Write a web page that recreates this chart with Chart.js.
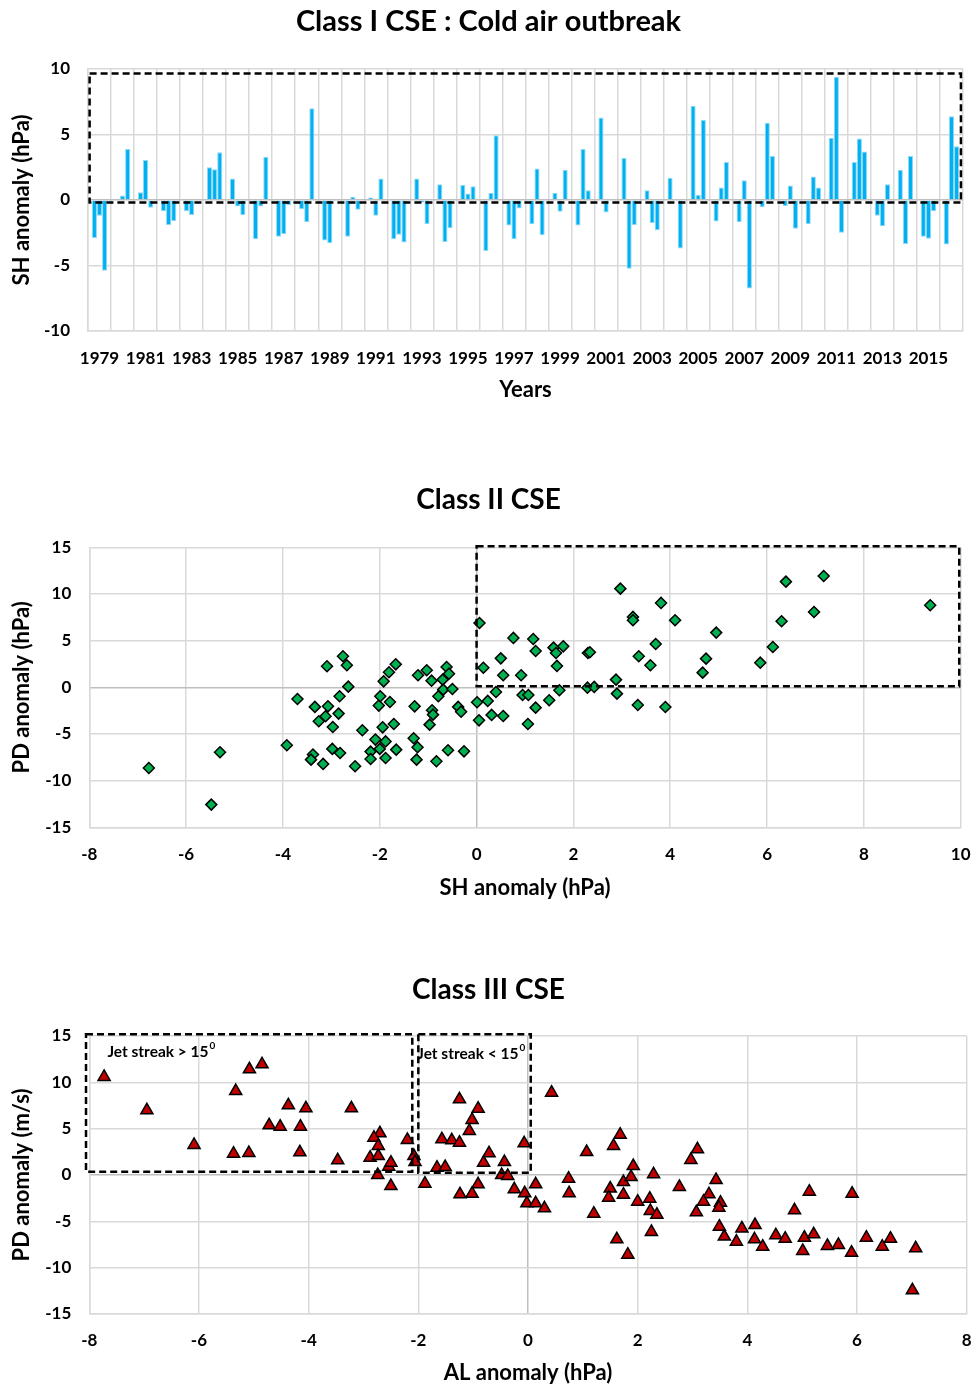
<!DOCTYPE html>
<html>
<head>
<meta charset="utf-8">
<script src="https://cdn.jsdelivr.net/npm/chart.js@4/dist/chart.umd.min.js"></script>
<style>
  body { margin: 0; background: #fff; }
  .panel { position: absolute; left: 0; width: 977px; }
  canvas { display: block; }
</style>
</head>
<body>
<div class="panel" style="top:0px"><canvas id="c1" width="977" height="410"></canvas></div>
<div class="panel" style="top:455px"><canvas id="c2" width="977" height="455"></canvas></div>
<div class="panel" style="top:945px"><canvas id="c3" width="977" height="441"></canvas></div>
<script>
// Class I: SH anomaly of each case, up to three cases per year
const years = ['1979','1980','1981','1982','1983','1984','1985','1986','1987','1988',
  '1989','1990','1991','1992','1993','1994','1995','1996','1997','1998',
  '1999','2000','2001','2002','2003','2004','2005','2006','2007','2008',
  '2009','2010','2011','2012','2013','2014','2015','2016'];
const caseA = [-2.9, 0.1, 0.6, -0.85, -0.85, 2.5, 1.65, -3.0, -2.8, -0.7,
  -3.1, -2.8, 0.2, -3.0, 1.65, 1.2, 1.15, -3.9, -1.95, -1.85,
  0.55, -1.95, 6.3, 3.2, 0.75, 1.7, 7.2, -1.65, -1.7, -0.55,
  -0.45, -1.85, 4.75, 2.9, -1.2, 2.3, -2.8, -3.4];
const caseB = [-1.2, 0.35, 3.05, -1.9, -1.15, 2.35, -0.5, -0.5, -2.6, -1.7,
  -3.3, 0.25, -1.2, -2.65, -0.2, -3.2, 0.5, 0.55, -3.0, 2.4,
  -0.9, 3.9, -0.95, -5.25, -1.75, null, 0.4, 0.95, 1.5, 5.9,
  1.1, 1.8, 9.4, 4.7, -2.0, -3.35, -2.95, 6.4];
const caseC = [-5.4, 3.9, -0.6, -1.6, null, 3.65, -1.15, 3.3, -0.4, 7.0,
  null, -0.75, 1.65, -3.25, -1.85, -2.15, 1.05, 4.95, -0.65, -2.7,
  2.3, 0.75, null, -1.9, -2.3, -3.7, 6.1, 2.9, -6.75, 3.35,
  -2.2, 0.95, -2.5, 3.7, 1.2, 3.35, -0.85, 4.1];

// Class II: SH anomaly vs PD anomaly
const shII = [-6.77, -5.30, -5.48, -3.92, -3.70, -3.34, -3.09, -2.76, -2.68, -2.65,
  -2.83, -3.07, -3.12, -3.26, -2.85, -2.97, -3.38, -3.42, -3.17, -2.98,
  -2.82, -2.51, -2.36, -2.19, -2.19, -2.09, -2.00, -1.88, -1.88, -1.66,
  -1.94, -1.71, -2.02, -1.99, -1.79, -1.92, -1.81, -1.67, -1.28, -1.21,
  -1.03, -0.93, -1.30, -1.22, -1.24, -0.83, -0.92, -0.90, -0.97, -0.79,
  -0.70, -0.62, -0.57, -0.69, -0.50, -0.38, -0.32, -0.59, -0.26,
  0.06, 0.14, 0.01, 0.05, 0.23, 0.31, 0.40, 0.50, 0.55, 0.55,
  0.76, 0.92, 0.95, 1.07, 1.06, 1.17, 1.22, 1.22, 1.50, 1.59,
  1.64, 1.66, 1.71, 1.79, 2.30, 2.34, 2.29, 2.43, 2.88, 2.90,
  2.97, 3.23, 3.23, 3.33, 3.35, 3.59, 3.70, 3.81, 3.90, 4.10,
  4.67, 4.74, 4.95, 5.86, 6.12, 6.30, 6.39, 6.97, 7.17, 9.37];
const pdII = [-8.64, -6.96, -12.57, -6.21, -1.25, -2.10, 2.25, 3.32, 2.36, 0.07,
  -0.96, -2.04, -3.10, -3.64, -2.82, -4.25, -7.20, -7.75, -8.21, -6.60,
  -7.04, -8.46, -4.60, -6.89, -7.68, -5.60, -6.60, -5.80, -7.57, -6.68,
  -4.29, -3.93, -1.96, -0.96, -1.57, 0.64, 1.61, 2.46, -2.04, 1.29,
  1.82, 0.71, -5.46, -6.43, -7.75, -7.93, -2.46, -2.93, -4.00, -0.96,
  0.82, 2.18, 1.46, -0.25, -0.18, -2.10, -2.61, -6.75, -6.86,
  6.89, 2.10, -1.60, -3.54, -1.46, -2.96, -0.50, 3.10, 1.29, -3.07,
  5.29, 1.29, -0.82, -0.82, -3.93, 5.18, 3.89, -2.18, -1.39, 4.25,
  3.68, 2.29, -0.32, 4.39, 3.68, 3.75, -0.04, 0.04, 0.82, -0.68,
  10.57, 7.54, 7.18, -1.89, 3.32, 2.36, 4.64, 9.04, -2.11, 7.18,
  1.57, 3.07, 5.86, 2.64, 4.32, 7.07, 11.32, 8.07, 11.93, 8.79];

// Class III: AL anomaly vs PD anomaly
const alIII = [-7.73, -6.95, -6.09, -5.37, -5.09, -5.33, -5.08, -4.85, -4.37, -4.72,
  -4.52, -4.05, -4.15, -4.16, -3.22, -3.47,
  -2.70, -2.81, -2.73, -2.88, -2.73, -2.74, -2.54, -2.50, -2.50, -2.20,
  -2.08, -2.06, -1.88, -1.66, -1.51, -1.57, -1.39, -1.25, -1.25, -0.91,
  -1.02, -1.07, -1.24, -1.02, -0.91, -0.71, -0.81, -0.43, -0.48, -0.37,
  -0.25, -0.06, -0.07, -0.02, 0.14, 0.30, 0.14, 0.43, 0.74, 0.75,
  1.07, 1.20, 1.62, 1.82, 1.56, 1.68, 1.50, 1.47, 1.74, 1.74,
  1.88, 1.92, 2.00,
  2.29, 2.22, 2.23, 2.35, 2.25, 2.76, 2.97, 3.09, 3.43, 3.30,
  3.20, 3.51, 3.48, 3.07, 3.49, 3.58, 3.80, 3.90, 4.14, 4.13,
  4.28, 4.52, 4.69, 4.86, 5.13, 5.04, 5.21, 5.01, 5.46, 5.66,
  5.90, 5.91, 6.17, 6.46, 6.61, 7.07, 7.01];
const pdIII = [10.58, 6.98, 3.24, 2.30, 2.37, 9.06, 11.40, 11.94, 7.52, 5.36,
  5.22, 7.19, 5.22, 2.45, 7.19, 1.58,
  4.50, 4.03, 3.13, 1.87, 2.05, 0.00, 0.90, 1.33, -1.19, 3.78,
  2.05, 1.40, -0.94, 0.79, 0.86, 3.85, 3.74, 3.49, 8.17, 7.16,
  5.94, 4.75, -2.09, -2.01, -1.01, 2.34, 1.33, 1.40, 0.00, -0.10,
  -1.55, -1.98, 3.42, -3.06, -3.06, -3.60, -1.01, 8.88, -0.40, -1.98,
  2.48, -4.17, -6.94, -8.60, 3.13, 4.35, -1.47, -2.45, -2.12, -0.76,
  -0.22, 0.97, -2.88,
  0.07, -2.55, -3.88, -4.28, -6.15, -1.29, 1.62, 2.77, -0.54, -2.09,
  -2.88, -2.99, -3.53, -4.03, -5.58, -6.65, -7.19, -5.76, -5.40, -6.94,
  -7.73, -6.51, -6.87, -3.81, -1.80, -6.76, -6.40, -8.20, -7.66, -7.55,
  -8.38, -2.01, -6.76, -7.73, -6.87, -7.91, -12.45];

Chart.defaults.font.family = 'Lato, "Open Sans", sans-serif';
Chart.defaults.font.weight = 'bold';
Chart.defaults.color = '#000';
Chart.defaults.animation = false;

const gridColor = '#d9d9d9';
const zeroColor = '#bfbfbf';

function points(xs, ys) {
  return xs.map(function(v, i) { return { x: v, y: ys[i] }; });
}

function gridByValue(ctx) {
  return ctx.tick && ctx.tick.value === 0 ? zeroColor : gridColor;
}

// dashed selection boxes and their captions, in data units
const boxPlugin = {
  id: 'dashBoxes',
  afterDatasetsDraw(chart, args, opts) {
    const ctx = chart.ctx, x = chart.scales.x, y = chart.scales.y;
    ctx.save();
    ctx.fillStyle = '#000';
    ctx.textBaseline = 'middle';
    (opts.labels || []).forEach(function(l) {
      const px = x.getPixelForValue(l.x), py = y.getPixelForValue(l.y);
      ctx.font = 'bold 15.5px Lato';
      ctx.fillText(l.text, px, py);
      const w = ctx.measureText(l.text).width;
      ctx.font = 'bold 10px Lato';
      ctx.fillText(l.sup, px + w + 1, py - 6);
    });
    ctx.strokeStyle = '#000';
    ctx.lineWidth = 2.5;
    ctx.setLineDash([7, 4]);
    (opts.boxes || []).forEach(function(b) {
      const x0 = x.getPixelForValue(b.x0), x1 = x.getPixelForValue(b.x1);
      const y0 = y.getPixelForValue(b.y0), y1 = y.getPixelForValue(b.y1);
      ctx.strokeRect(x0, y1, x1 - x0, y0 - y1);
    });
    ctx.restore();
  }
};

function titleOpts(text, size, top, bottom) {
  return { display: true, text: text, font: { size: size, weight: 'bold' }, color: '#000',
    padding: { top: top, bottom: bottom } };
}

// side padding is symmetric so the chart title stays centred on the page;
// the y axis takes the rest of the room up to the plot's left edge
function yAxis(title, plotLeft, side, min, max, step) {
  return {
    min: min, max: max,
    afterFit: function(s) { s.width = plotLeft - side; },
    ticks: { stepSize: step, padding: 18, font: { size: 17 } },
    grid: { color: gridByValue, lineWidth: 1.5, drawTicks: false },
    border: { display: true, color: gridColor, width: 1.5 },
    title: { display: true, text: title, font: { size: 22 }, padding: { top: 8.8 - side } }
  };
}

// x axis of the scatter panels: the gap under the plot comes from an invisible tick mark
function xAxis(title, height, min, max, gap, titleGap) {
  return {
    type: 'linear', min: min, max: max,
    afterFit: function(s) { s.height = height; },
    ticks: { stepSize: 2, padding: 0, font: { size: 17 } },
    grid: { color: gridByValue, lineWidth: 1.5, drawTicks: true, tickLength: gap,
      tickColor: 'rgba(0,0,0,0)' },
    border: { display: true, color: gridColor, width: 1.5 },
    title: { display: true, text: title, font: { size: 22 }, padding: { bottom: titleGap } }
  };
}

// ---- Class I ----
new Chart(document.getElementById('c1'), {
  type: 'bar',
  data: {
    labels: years,
    datasets: [caseA, caseB, caseC].map(function(d) {
      return { data: d, backgroundColor: '#00b0f0', borderColor: '#8fd8f5', borderWidth: 1,
        categoryPercentage: 0.667, barPercentage: 1 };
    })
  },
  options: {
    responsive: false,
    layout: { padding: { left: 14, right: 14 } },
    plugins: {
      legend: { display: false },
      tooltip: { enabled: false },
      title: titleOpts('Class I CSE : Cold air outbreak', 29, 4.6, 29.6),
      dashBoxes: { boxes: [{ x0: -0.43, x1: 37.41, y0: -0.2, y1: 9.66 }] }
    },
    scales: {
      x: {
        afterFit: function(s) { s.height = 79; },
        ticks: { autoSkip: false, maxRotation: 0, padding: 17, font: { size: 17 },
          callback: function(v, i) { return i % 2 === 0 ? years[i] : ''; } },
        grid: { color: gridColor, lineWidth: 1.5, drawTicks: false },
        border: { display: true, color: gridColor, width: 1.5 },
        title: { display: true, text: 'Years', font: { size: 22 }, padding: { bottom: 6.8 } }
      },
      y: yAxis('SH anomaly (hPa)', 88, 14, -10, 10, 5)
    }
  },
  plugins: [boxPlugin]
});

// ---- Class II ----
new Chart(document.getElementById('c2'), {
  type: 'scatter',
  data: {
    datasets: [{ data: points(shII, pdII), pointStyle: 'rectRot', radius: 5.5,
      backgroundColor: '#00b050', borderColor: '#000', borderWidth: 1.5 }]
  },
  options: {
    responsive: false,
    layout: { padding: { left: 16.3, right: 16.3 } },
    plugins: {
      legend: { display: false },
      tooltip: { enabled: false },
      title: titleOpts('Class II CSE', 28, 28.2, 30.5),
      dashBoxes: { boxes: [{ x0: 0, x1: 9.97, y0: 0.1, y1: 15.1 }] }
    },
    scales: {
      x: xAxis('SH anomaly (hPa)', 82.7, -8, 10, 17.5, 8.8),
      y: yAxis('PD anomaly (hPa)', 89.3, 16.3, -15, 15, 5)
    }
  },
  plugins: [boxPlugin]
});

// ---- Class III ----
new Chart(document.getElementById('c3'), {
  type: 'scatter',
  data: {
    datasets: [{ data: points(alIII, pdIII), pointStyle: 'triangle', radius: 7,
      backgroundColor: '#c00000', borderColor: '#000', borderWidth: 1.5 }]
  },
  options: {
    responsive: false,
    layout: { padding: { left: 10.3, right: 10.3 } },
    plugins: {
      legend: { display: false },
      tooltip: { enabled: false },
      title: titleOpts('Class III CSE', 28, 28.2, 29.2),
      dashBoxes: {
        labels: [
          { x: -7.67, y: 13.3, text: 'Jet streak > 15', sup: '0' },
          { x: -2.02, y: 13.1, text: 'Jet streak < 15', sup: '0' }
        ],
        boxes: [
          { x0: -8.06, x1: -2.11, y0: 0.35, y1: 15.2 },
          { x0: -2.0, x1: 0.05, y0: 0.24, y1: 15.2 }
        ]
      }
    },
    scales: {
      x: xAxis('AL anomaly (hPa)', 72, -8, 8, 16.8, 0),
      y: yAxis('PD anomaly (m/s)', 89.3, 10.3, -15, 15, 5)
    }
  },
  plugins: [boxPlugin]
});
</script>
</body>
</html>
